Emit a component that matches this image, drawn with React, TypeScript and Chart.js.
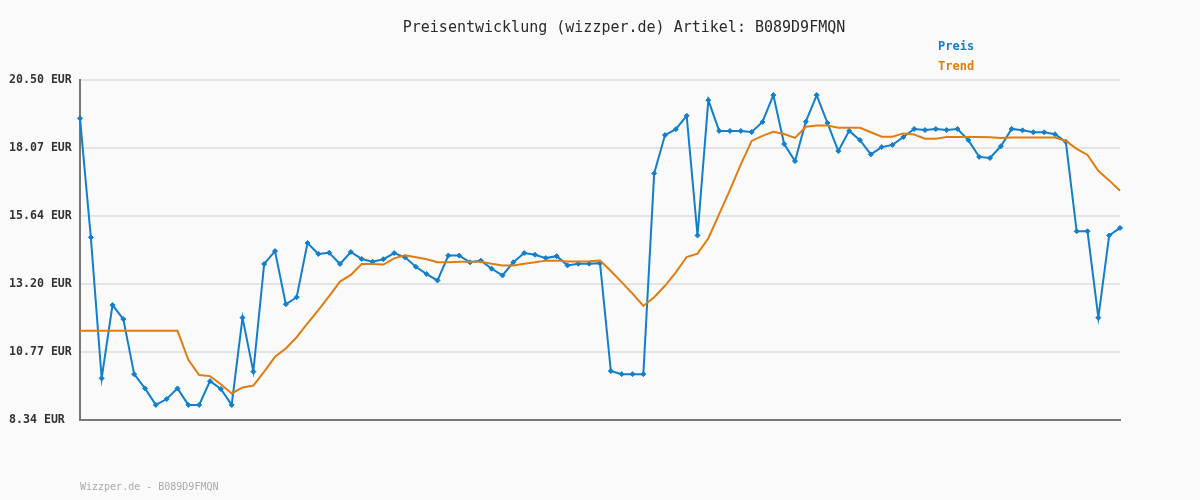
import React, { useEffect, useRef } from "react";
import { Chart, registerables } from "chart.js";

Chart.register(...registerables);

const TITLE = "Preisentwicklung (wizzper.de) Artikel: B089D9FMQN";
const FOOTER = "Wizzper.de - B089D9FMQN";
const SERIES_NAMES = ["Preis", "Trend"];

const preis = [
  19.13, 14.87, 9.83, 12.45, 11.95, 9.98, 9.47, 8.88, 9.09, 9.47,
  8.88, 8.88, 9.73, 9.45, 8.88, 12.0, 10.07, 13.92, 14.38, 12.48,
  12.73, 14.67, 14.28, 14.32, 13.92, 14.35, 14.1, 14.0, 14.09, 14.31,
  14.16, 13.82, 13.56, 13.33, 14.22, 14.22, 13.98, 14.04, 13.75, 13.51,
  13.98, 14.31, 14.25, 14.13, 14.2, 13.87, 13.93, 13.93, 13.95, 10.09,
  9.98, 9.98, 9.98, 17.16, 18.53, 18.74, 19.22, 14.94, 19.78, 18.68,
  18.68, 18.68, 18.64, 19.0, 19.96, 18.21, 17.6, 19.01, 19.96, 18.96,
  17.96, 18.68, 18.35, 17.84, 18.1, 18.18, 18.46, 18.75, 18.71, 18.75,
  18.71, 18.75, 18.35, 17.75, 17.71, 18.13, 18.75, 18.7, 18.63, 18.63,
  18.56, 18.29, 15.09, 15.09, 12.0, 14.94, 15.21,
];

const trend = [
  11.53, 11.53, 11.53, 11.53, 11.53, 11.53, 11.53, 11.53, 11.53, 11.53,
  10.49, 9.95, 9.91, 9.62, 9.29, 9.5, 9.57, 10.07, 10.6, 10.9,
  11.3, 11.8, 12.27, 12.77, 13.29, 13.53, 13.92, 13.92, 13.9, 14.12,
  14.23, 14.16, 14.09, 13.98, 13.98, 14.0, 14.0, 14.0, 13.93, 13.87,
  13.87, 13.93, 13.98, 14.04, 14.04, 14.01, 14.01, 14.02, 14.04, 13.67,
  13.27, 12.86, 12.42, 12.73, 13.14, 13.62, 14.17, 14.29, 14.84, 15.7,
  16.57, 17.48, 18.32, 18.5, 18.65, 18.57, 18.43, 18.83, 18.87, 18.87,
  18.79, 18.79, 18.79, 18.63, 18.47, 18.47, 18.59, 18.55, 18.4, 18.4,
  18.46, 18.46, 18.46, 18.46, 18.45, 18.43, 18.44, 18.44, 18.44, 18.44,
  18.44, 18.32, 18.04, 17.82, 17.25, 16.91, 16.54,
];

const categories = preis.map((_, i) => String(i + 1));

const yTickValues = [8.34, 10.772, 13.204, 15.636, 18.068, 20.5];
const Y_MIN = 8.34;
const Y_MAX = 20.5;

const BLUE = "#127fcc";
const ORANGE = "#e07d10";
const MONO = "'DejaVu Sans Mono', 'Liberation Mono', monospace";

const textPlugin = {
  id: "textPlugin",
  afterDraw(chart: any) {
    const ctx = chart.ctx;
    ctx.save();
    ctx.textBaseline = "middle";
    ctx.font = `15px ${MONO}`;
    ctx.fillStyle = "#2a2a2a";
    ctx.textAlign = "center";
    ctx.fillText(TITLE, 624, 28);
    ctx.textAlign = "left";
    ctx.font = `bold 12px ${MONO}`;
    ctx.fillStyle = BLUE;
    ctx.fillText(SERIES_NAMES[0], 938, 47);
    ctx.fillStyle = ORANGE;
    ctx.fillText(SERIES_NAMES[1], 938, 67);
    ctx.font = `10px ${MONO}`;
    ctx.fillStyle = "#aaaaaa";
    ctx.fillText(FOOTER, 80, 487);
    ctx.restore();
  },
};

const bgPlugin = {
  id: "bgPlugin",
  beforeDraw(chart: any) {
    const ctx = chart.ctx;
    ctx.save();
    ctx.fillStyle = "#fafafa";
    ctx.fillRect(0, 0, chart.width, chart.height);
    ctx.restore();
  },
};

export default function App() {
  const ref = useRef<HTMLCanvasElement | null>(null);

  useEffect(() => {
    document.body.style.margin = "0";
    document.body.style.background = "#fafafa";
    if (!ref.current) return;
    const chart = new Chart(ref.current, {
      type: "line",
      data: {
        labels: categories,
        datasets: [
          {
            label: SERIES_NAMES[1],
            data: trend,
            borderColor: ORANGE,
            borderWidth: 2,
            pointRadius: 0,
            tension: 0,
            order: 0,
          },
          {
            label: SERIES_NAMES[0],
            data: preis,
            borderColor: BLUE,
            backgroundColor: BLUE,
            borderWidth: 2,
            pointStyle: "rectRot",
            pointRadius: 2.5,
            pointBorderWidth: 1,
            pointBackgroundColor: BLUE,
            pointBorderColor: BLUE,
            tension: 0,
            order: 1,
          },
        ],
      },
      options: {
        animation: false,
        responsive: false,
        maintainAspectRatio: false,
        layout: { padding: { left: 9, right: 80, top: 80, bottom: 80 } },
        plugins: {
          legend: { display: false },
          title: { display: false },
          tooltip: { enabled: false },
        },
        scales: {
          x: {
            type: "category",
            offset: false,
            ticks: { display: false },
            grid: { display: false, drawTicks: false },
            border: { display: true, color: "#777777", width: 2 },
            afterFit(scale: any) {
              scale.height = 0;
            },
          },
          y: {
            min: Y_MIN,
            max: Y_MAX,
            afterBuildTicks(scale: any) {
              scale.ticks = yTickValues.map((v) => ({ value: v }));
            },
            afterFit(scale: any) {
              scale.width = 71;
            },
            ticks: {
              crossAlign: "far",
              padding: 0,
              color: "#333333",
              font: { family: MONO, size: 11.6, weight: "bold" },
              callback: (v: any) => `${Number(v).toFixed(2)} EUR`,
            },
            grid: { color: "#e4e4e4", lineWidth: 2, drawTicks: false },
            border: { display: true, color: "#777777", width: 2 },
          },
        },
      },
      plugins: [bgPlugin, textPlugin],
    } as any);
    return () => chart.destroy();
  }, []);

  return (
    <div style={{ position: "relative", width: 1200, height: 500 }}>
      <canvas ref={ref} width={1200} height={500} style={{ display: "block" }} />
    </div>
  );
}
